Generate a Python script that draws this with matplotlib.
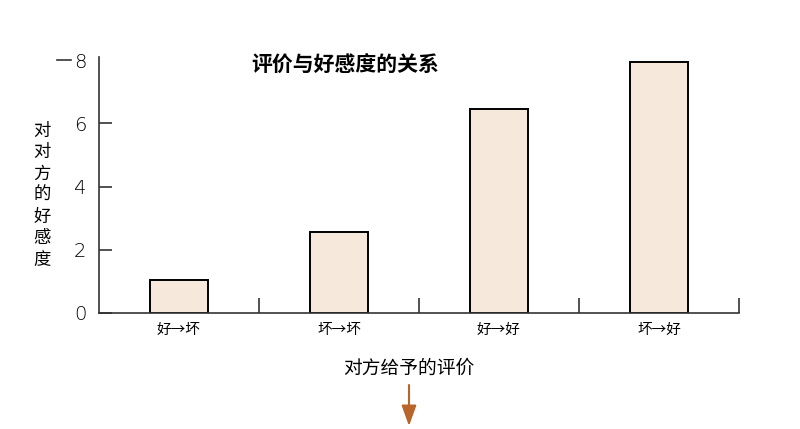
import matplotlib
matplotlib.use("Agg")
import matplotlib.pyplot as plt
import matplotlib.transforms as mtransforms

plt.rcParams['font.family'] = ['Noto Sans CJK SC', 'DejaVu Sans']

categories = ["好→坏", "坏→坏", "好→好", "坏→好"]
values = [1.05, 2.55, 6.45, 7.95]
yticks = [0, 2, 4, 6, 8]
title = "评价与好感度的关系"
ylabel = "对对方的好感度"
xlabel = "对方给予的评价"

bar_color = "#F6E8DA"
axis_color = "#333333"

fig = plt.figure(figsize=(8, 4.29), dpi=100)
ax = fig.add_axes([99 / 800, 116 / 429, 640 / 800, 256 / 429])

x = list(range(len(categories)))
ax.bar(x, values, width=0.36, color=bar_color, edgecolor="black", linewidth=1.4)

ax.set_xlim(-0.5, len(categories) - 0.5)
ax.set_ylim(0, 8.1)

for side in ["top", "right"]:
    ax.spines[side].set_visible(False)
for side in ["left", "bottom"]:
    ax.spines[side].set_color(axis_color)
    ax.spines[side].set_linewidth(1.2)

# category labels, separators between categories
ax.set_xticks(x)
ax.set_xticklabels(categories, fontsize=10.5)
ax.tick_params(axis="x", which="major", length=0, pad=7)
ax.set_xticks([i + 0.5 for i in x], minor=True)
ax.tick_params(axis="x", which="minor", direction="in", length=11,
               width=1.2, color=axis_color)

# y ticks point inward; the top one sits left of its label
ax.set_yticks(yticks)
ax.set_yticklabels([str(v) for v in yticks], fontsize=14,
                   family="DejaVu Sans", fontweight="light")
ax.tick_params(axis="y", direction="in", length=9.5, width=1.2,
               color=axis_color, pad=9)
ax.yaxis.get_major_ticks()[-1].tick1line.set_visible(False)
trans = mtransforms.blended_transform_factory(ax.transAxes, ax.transData)
ax.plot([-0.066, -0.044], [yticks[-1], yticks[-1]], color=axis_color,
        lw=1.2, transform=trans, clip_on=False)

fig.text(0.431, 0.848, title, fontsize=15, fontweight="bold",
         ha="center", va="center")
fig.text(42 / 800, 0.545, "\n".join(ylabel), fontsize=12.5,
         ha="center", va="center", linespacing=1.25)
fig.text(409 / 800, (429 - 368) / 429, xlabel, fontsize=13.5,
         ha="center", va="center")

fig.add_artist(matplotlib.patches.FancyArrowPatch(
    (409 / 800, (429 - 385) / 429), (409 / 800, (429 - 426) / 429),
    transform=fig.transFigure, arrowstyle="-|>,head_length=1.25,head_width=0.45",
    color="#B8642A", lw=1.5, mutation_scale=10, shrinkA=0, shrinkB=0))

fig.savefig("out.png", dpi=100)
